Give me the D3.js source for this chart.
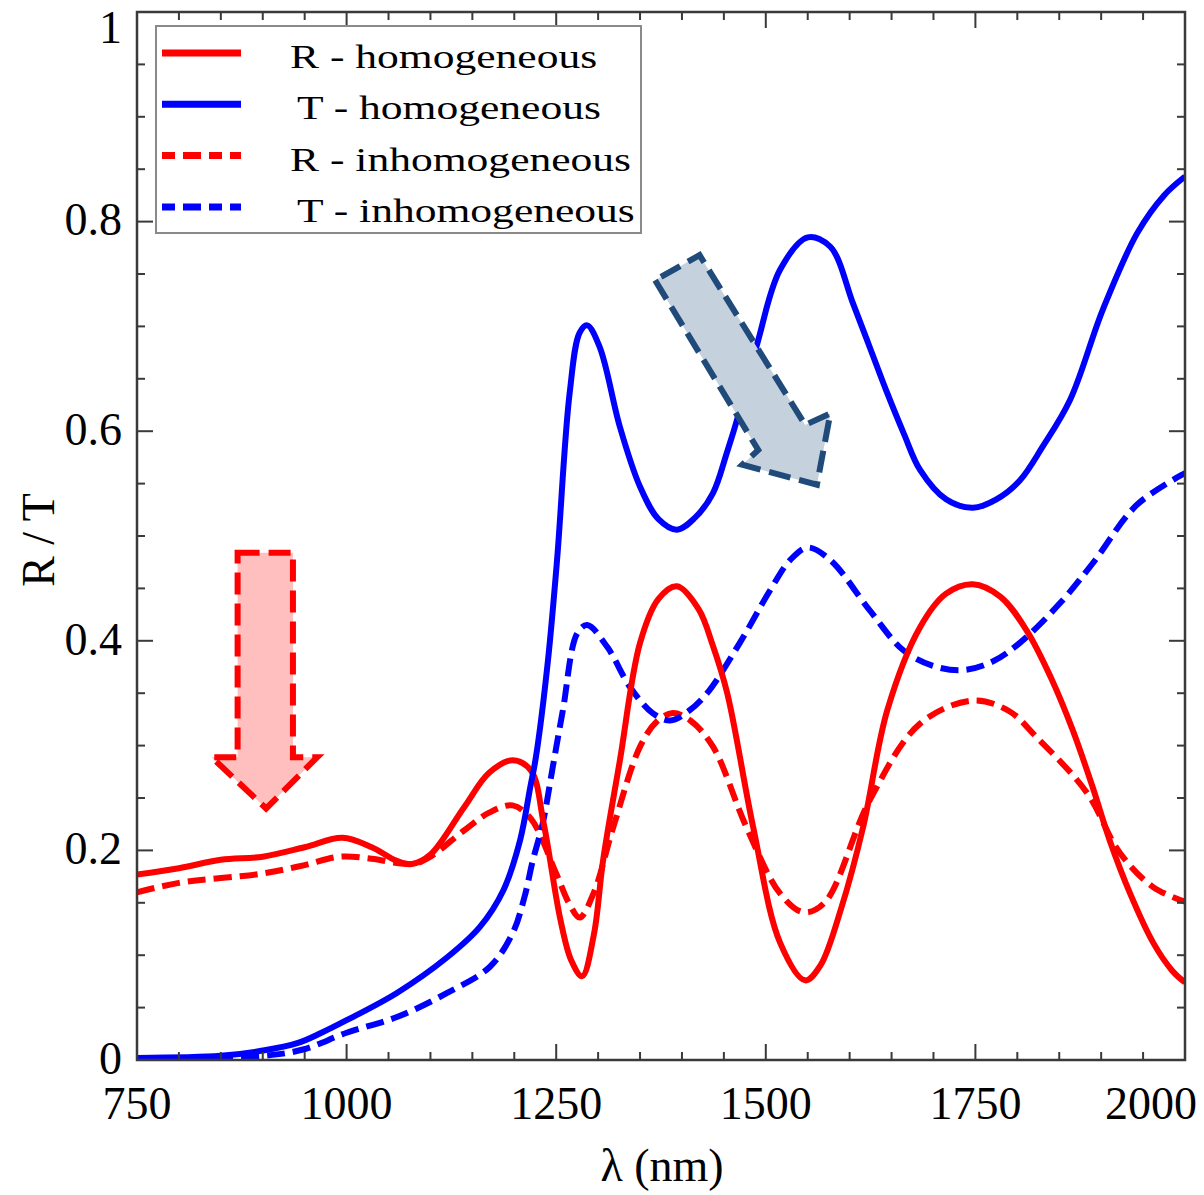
<!DOCTYPE html>
<html>
<head>
<meta charset="utf-8">
<script src="https://d3js.org/d3.v7.min.js"></script>
<style>
  body { margin: 0; background: #fff; }
  text { font-family: "Liberation Serif", "Times New Roman", serif; fill: #000; }
</style>
</head>
<body>
<script>
// wavelength (nm) and values
var rHomX = [750,800,850,900,950,995,1030,1060,1078,1100,1140,1170,1198,1220,1235,1255,1268,1281,1295,1306,1326,1350,1372,1394,1420,1437,1454,1485,1517,1547,1565,1590,1616,1645,1684,1715,1747,1780,1811,1840,1866,1890,1910,1935,1962,1985,2000];
var rHomY = [0.177,0.183,0.191,0.194,0.203,0.212,0.203,0.190,0.187,0.196,0.241,0.274,0.286,0.276,0.226,0.134,0.095,0.080,0.120,0.191,0.286,0.398,0.440,0.452,0.430,0.395,0.350,0.222,0.112,0.076,0.090,0.145,0.222,0.334,0.413,0.445,0.454,0.442,0.410,0.365,0.315,0.260,0.210,0.158,0.112,0.085,0.074];

var tHomX = [750,850,900,941,970,1000,1060,1120,1159,1187,1207,1219,1226,1240,1251,1266,1278,1287,1302,1326,1350,1372,1394,1415,1437,1453,1469,1490,1517,1550,1577,1604,1625,1645,1665,1684,1715,1747,1775,1803,1830,1863,1902,1943,1975,2000];
var tHomY = [0.002,0.004,0.009,0.016,0.026,0.038,0.064,0.098,0.127,0.162,0.210,0.260,0.290,0.380,0.477,0.636,0.694,0.701,0.680,0.604,0.547,0.516,0.506,0.517,0.541,0.578,0.620,0.684,0.754,0.785,0.776,0.722,0.678,0.636,0.597,0.563,0.535,0.527,0.535,0.553,0.585,0.630,0.716,0.789,0.825,0.843];

var rInhX = [750,800,900,950,992,1030,1060,1080,1100,1140,1170,1198,1220,1250,1265,1278,1295,1318,1350,1370,1389,1410,1437,1477,1517,1545,1570,1624,1684,1747,1790,1823,1883,1922,1962,2000];
var rInhY = [0.160,0.169,0.178,0.186,0.194,0.192,0.188,0.187,0.194,0.219,0.236,0.243,0.230,0.178,0.150,0.136,0.160,0.222,0.299,0.323,0.331,0.324,0.299,0.222,0.159,0.141,0.150,0.248,0.321,0.343,0.333,0.308,0.255,0.198,0.165,0.151];

var tInhX = [750,900,948,1000,1060,1120,1171,1198,1212,1222,1234,1246,1258,1275,1287,1311,1338,1365,1386,1408,1430,1469,1505,1529,1550,1577,1624,1664,1700,1735,1770,1803,1851,1890,1943,2000];
var tInhY = [0.002,0.004,0.010,0.026,0.041,0.064,0.089,0.121,0.155,0.190,0.226,0.280,0.334,0.407,0.415,0.394,0.356,0.331,0.324,0.333,0.350,0.398,0.448,0.477,0.489,0.477,0.429,0.391,0.376,0.372,0.380,0.398,0.436,0.474,0.530,0.560];

var seriesNames = ["R - homogeneous", "T - homogeneous", "R - inhomogeneous", "T - inhomogeneous"];
var seriesColors = ["#ff0000", "#0000ff", "#ff0000", "#0000ff"];
var seriesDashed = [false, false, true, true];

var xTicks = [750, 1000, 1250, 1500, 1750, 2000];
var yTicks = [0, 0.2, 0.4, 0.6, 0.8, 1];
var yTickLabels = ["0", "0.2", "0.4", "0.6", "0.8", "1"];

// annotation arrows, corners in data units
var redArrow = [[870,0.484],[936,0.484],[936,0.289],[965,0.289],[904,0.240],[839,0.289],[870,0.289]];
var blueArrow = [[1368,0.744],[1491,0.582],[1472,0.568],[1561,0.549],[1577,0.617],[1547,0.606],[1421,0.768]];

var W = 1204, H = 1195;
var mLeft = 137, mRight = 1185, mTop = 12, mBottom = 1060;

var x = d3.scaleLinear().domain([750, 2000]).range([mLeft, mRight]);
var y = d3.scaleLinear().domain([0, 1]).range([mBottom, mTop]);

var svg = d3.select("body").append("svg")
    .attr("width", W)
    .attr("height", H);

var series = [[rHomX, rHomY], [tHomX, tHomY], [rInhX, rInhY], [tInhX, tInhY]].map(function(s, i) {
  return {
    name: seriesNames[i], color: seriesColors[i], dashed: seriesDashed[i],
    values: s[0].map(function(v, j) { return [v, s[1][j]]; })
  };
});

var line = d3.line()
    .x(function(d) { return x(d[0]); })
    .y(function(d) { return y(d[1]); })
    .curve(d3.curveCatmullRom.alpha(0.5));

svg.append("clipPath").attr("id", "clip")
  .append("rect").attr("x", mLeft).attr("y", mTop).attr("width", mRight - mLeft).attr("height", mBottom - mTop);

var plot = svg.append("g").attr("clip-path", "url(#clip)");

plot.selectAll("path.series")
  .data([series[2], series[3], series[0], series[1]])
  .enter().append("path")
    .attr("class", "series")
    .attr("d", function(d) { return line(d.values); })
    .attr("fill", "none")
    .attr("stroke", function(d) { return d.color; })
    .attr("stroke-width", 6)
    .attr("stroke-dasharray", function(d) { return d.dashed ? "18,8" : null; });

// arrows
var arrowLine = d3.line()
    .x(function(d) { return x(d[0]); })
    .y(function(d) { return y(d[1]); });

svg.append("path")
    .attr("d", arrowLine(redArrow) + "Z")
    .attr("fill", "#ffbfbf")
    .attr("stroke", "#ff0000")
    .attr("stroke-width", 6)
    .attr("stroke-dasharray", "22,9");

svg.append("path")
    .attr("d", arrowLine(blueArrow) + "Z")
    .attr("fill", "#c6d1de")
    .attr("stroke", "#1f4a7a")
    .attr("stroke-width", 6)
    .attr("stroke-dasharray", "22,9");

// frame + inward ticks on all four sides
var frame = svg.append("g").attr("stroke", "#3a3a3a").attr("fill", "none");
frame.append("rect")
    .attr("x", mLeft).attr("y", mTop).attr("width", mRight - mLeft).attr("height", mBottom - mTop)
    .attr("stroke-width", 2.5);

var xMinor = d3.range(750, 2001, 50);
var yMinor = d3.range(0, 1.0001, 0.05);

xMinor.forEach(function(v) {
  var major = xTicks.indexOf(v) >= 0;
  var len = major ? 16 : 8;
  frame.append("line").attr("x1", x(v)).attr("x2", x(v)).attr("y1", mBottom).attr("y2", mBottom - len).attr("stroke-width", 2);
  frame.append("line").attr("x1", x(v)).attr("x2", x(v)).attr("y1", mTop).attr("y2", mTop + len).attr("stroke-width", 2);
});
yMinor.forEach(function(v, i) {
  var major = i % 4 === 0;
  var len = major ? 16 : 8;
  frame.append("line").attr("y1", y(v)).attr("y2", y(v)).attr("x1", mLeft).attr("x2", mLeft + len).attr("stroke-width", 2);
  frame.append("line").attr("y1", y(v)).attr("y2", y(v)).attr("x1", mRight).attr("x2", mRight - len).attr("stroke-width", 2);
});

// tick labels
svg.selectAll("text.ytick")
  .data(yTicks)
  .enter().append("text")
    .attr("class", "ytick")
    .attr("x", 122)
    .attr("y", function(d) { return Math.max(y(d), 29); })
    .attr("dy", "0.3em")
    .attr("text-anchor", "end")
    .style("font-size", "46px")
    .text(function(d, i) { return yTickLabels[i]; });

svg.selectAll("text.xtick")
  .data(xTicks)
  .enter().append("text")
    .attr("class", "xtick")
    .attr("x", function(d, i) { return i === xTicks.length - 1 ? 1197 : x(d); })
    .attr("y", 1119)
    .attr("text-anchor", function(d, i) { return i === xTicks.length - 1 ? "end" : "middle"; })
    .style("font-size", "46px")
    .text(function(d) { return d; });

svg.append("text")
    .attr("x", 662).attr("y", 1181)
    .attr("text-anchor", "middle")
    .style("font-size", "46px")
    .text("λ (nm)");

svg.append("text")
    .attr("transform", "translate(54,540) rotate(-90)")
    .attr("text-anchor", "middle")
    .style("font-size", "46px")
    .text("R / T");

// legend
var lg = svg.append("g");
lg.append("rect")
    .attr("x", 156).attr("y", 26).attr("width", 485).attr("height", 207)
    .attr("fill", "#fff").attr("stroke", "#8a8a8a").attr("stroke-width", 2);

var rows = lg.selectAll("g.row")
  .data(series)
  .enter().append("g")
    .attr("class", "row")
    .attr("transform", function(d, i) { return "translate(0," + (53 + i * 51.3) + ")"; });

rows.append("line")
    .attr("x1", 162).attr("x2", 241)
    .attr("stroke", function(d) { return d.color; })
    .attr("stroke-width", 7)
    .attr("stroke-dasharray", function(d) { return d.dashed ? "13,8,18,8" : null; });

rows.append("text")
    .attr("transform", function(d) { return "translate(" + (d.name[0] === "T" ? 297 : 290) + ",15) scale(1.32,1)"; })
    .style("font-size", "33px")
    .text(function(d) { return d.name; });
</script>
</body>
</html>
